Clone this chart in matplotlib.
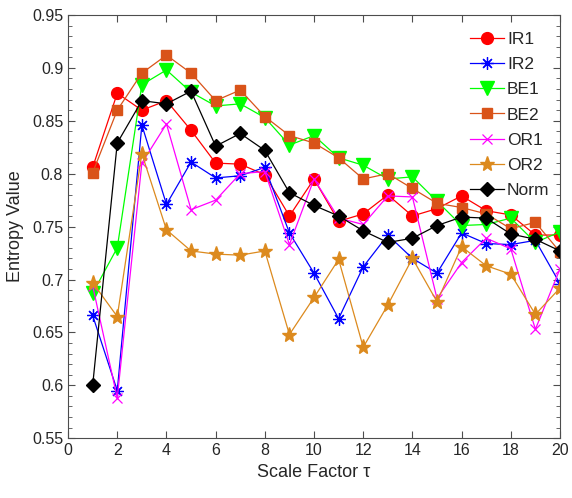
import matplotlib
matplotlib.use("Agg")
import matplotlib.pyplot as plt
from matplotlib.ticker import MultipleLocator

plt.rcParams['font.family'] = ['Liberation Sans', 'DejaVu Sans']

scale = list(range(1, 21))
IR1 = [0.806, 0.876, 0.860, 0.869, 0.841, 0.810, 0.809, 0.799, 0.760, 0.795,
       0.755, 0.762, 0.780, 0.760, 0.767, 0.779, 0.765, 0.761, 0.742, 0.742]
IR2 = [0.666, 0.595, 0.846, 0.771, 0.811, 0.796, 0.798, 0.806, 0.744, 0.706,
       0.663, 0.712, 0.742, 0.720, 0.706, 0.744, 0.734, 0.733, 0.737, 0.696]
BE1 = [0.687, 0.730, 0.884, 0.898, 0.877, 0.864, 0.866, 0.853, 0.827, 0.836,
       0.815, 0.808, 0.795, 0.797, 0.774, 0.751, 0.752, 0.758, 0.735, 0.745]
BE2 = [0.801, 0.860, 0.895, 0.912, 0.895, 0.869, 0.879, 0.854, 0.836, 0.829,
       0.815, 0.795, 0.800, 0.786, 0.772, 0.768, 0.762, 0.748, 0.754, 0.726]
OR1 = [0.694, 0.588, 0.810, 0.847, 0.766, 0.775, 0.800, 0.802, 0.733, 0.795,
       0.758, 0.752, 0.779, 0.778, 0.682, 0.716, 0.739, 0.729, 0.653, 0.710]
OR2 = [0.697, 0.665, 0.819, 0.747, 0.727, 0.724, 0.723, 0.727, 0.648, 0.683,
       0.719, 0.636, 0.676, 0.720, 0.679, 0.731, 0.713, 0.705, 0.667, 0.692]
Norm = [0.600, 0.829, 0.869, 0.866, 0.878, 0.826, 0.838, 0.822, 0.782, 0.770,
        0.760, 0.746, 0.735, 0.739, 0.751, 0.759, 0.758, 0.743, 0.738, 0.727]

labels = ['IR1', 'IR2', 'BE1', 'BE2', 'OR1', 'OR2', 'Norm']
xticks = [0, 2, 4, 6, 8, 10, 12, 14, 16, 18, 20]
yticks = [0.55, 0.6, 0.65, 0.7, 0.75, 0.8, 0.85, 0.9, 0.95]

fig = plt.figure(figsize=(5.72, 4.98), dpi=100)
ax = fig.add_axes([0.119, 0.120, 0.860, 0.850])

lw = 0.9
styles = [
    dict(color='#ff0000', marker='o', ms=8.5, mfc='#ff0000', mec='#ff0000'),
    dict(color='#0000ff', marker=(8, 2, 0), ms=9, mec='#0000ff', mew=0.9),
    dict(color='#00ff00', marker='v', ms=9.5, mfc='#00ff00', mec='#00ff00'),
    dict(color='#d95319', marker='s', ms=6.5, mfc='#d95319', mec='#d95319'),
    dict(color='#ff00ff', marker='x', ms=7, mec='#ff00ff', mew=0.9),
    dict(color='#dc8a1e', marker='*', ms=11, mfc='#dc8a1e', mec='#dc8a1e'),
    dict(color='#000000', marker='D', ms=7, mfc='#000000', mec='#000000'),
]
series = [IR1, IR2, BE1, BE2, OR1, OR2, Norm]
for s, lab, st in zip(series, labels, styles):
    ax.plot(scale, s, lw=lw, label=lab, **st)

ax.set_xlim(0, 20)
ax.set_ylim(0.55, 0.95)
ax.set_xticks(xticks)
ax.set_xticklabels([str(t) for t in xticks])
ax.set_yticks(yticks)
ax.set_yticklabels([f"{t:g}" for t in yticks])
ax.yaxis.set_minor_locator(MultipleLocator(0.01))

gray = '#262626'
for sp in ax.spines.values():
    sp.set_color('#4d4d4d')
    sp.set_linewidth(0.8)
ax.tick_params(axis='both', which='both', direction='in', top=True, right=True,
               colors='#4d4d4d', labelcolor=gray, labelsize=11.5)
ax.tick_params(axis='both', which='major', length=5, width=0.8)
ax.tick_params(axis='y', which='minor', length=3, width=0.6)

ax.set_xlabel('Scale Factor τ', fontsize=13, color=gray, labelpad=4)
ax.set_ylabel('Entropy Value', fontsize=13, color=gray, labelpad=6)

leg = ax.legend(loc='upper right', bbox_to_anchor=(1.0, 0.985), frameon=False,
                fontsize=12.5, handlelength=2.0, handletextpad=0.15,
                labelspacing=0.58, borderaxespad=0.2)
for t in leg.get_texts():
    t.set_color(gray)

fig.savefig('out.png', dpi=100)
